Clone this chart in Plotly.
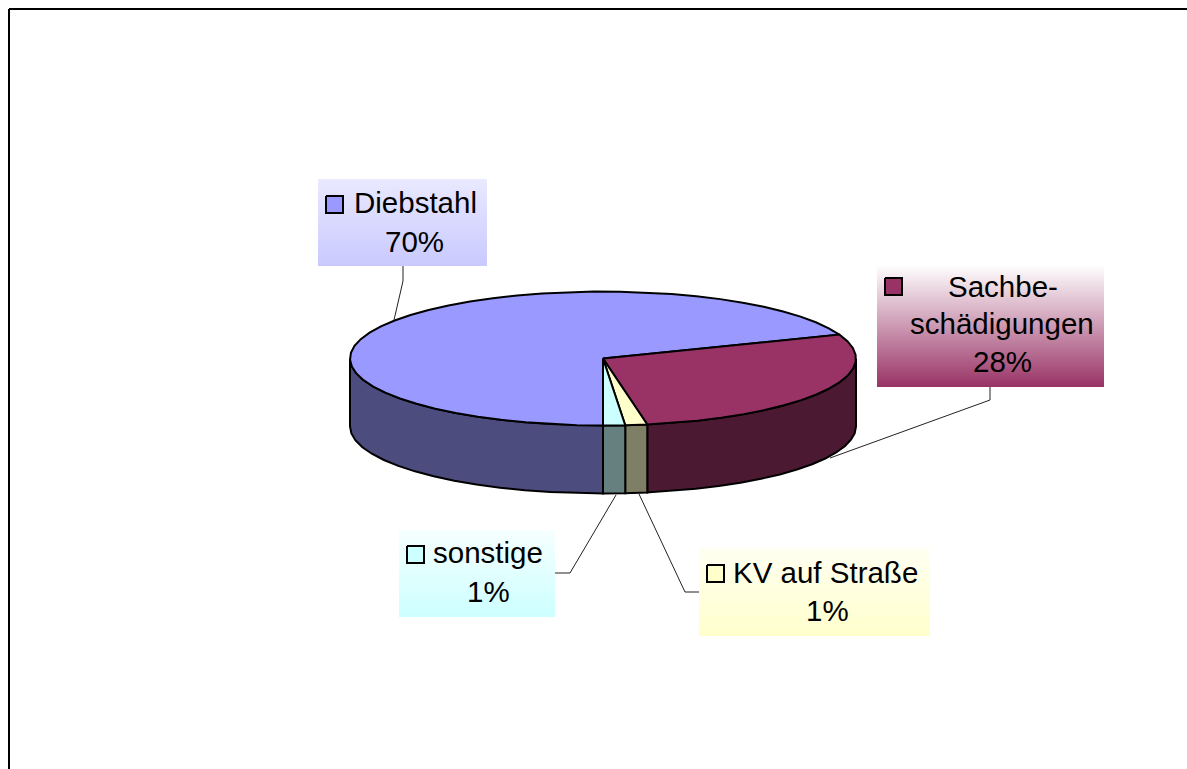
import numpy as np
import plotly.graph_objects as go

# Data
categories = ["Diebstahl", "Sachbe-<br>schädigungen", "KV auf Straße", "sonstige"]
values = [69.2, 28.0, 1.4, 1.4]
percent_labels = ["70%", "28%", "1%", "1%"]
top_colors = ["#9999FF", "#993366", "#FFFFCC", "#CCFFFF"]
side_colors = ["#4C4C7F", "#4C1933", "#7F7F66", "#667F7F"]
grad_top = ["#E9E9FF", "#FFFFFF", "#FFFFF2", "#F7FFFF"]
grad_bottom = ["#C9C9FF", "#993366", "#FFFFCC", "#CCFFFF"]

# Layout in pixels
W, H = 1187, 769
CX, CY, RX, RY, DEPTH = 603, 358.5, 253, 67, 68
START = 180.0
STEP = 6.0
boxes = [(318, 179, 487, 266), (877, 265, 1104, 387), (699, 548, 930, 636), (399, 530, 555, 617)]
keys = [(326, 196), (885, 278), (707, 565), (407, 546)]
text_lines = [
    [("Diebstahl", 415, 202), ("70%", 414, 241)],
    [("Sachbe-", 1003, 286), ("schädigungen", 1002, 323), ("28%", 1002, 361)],
    [("KV auf Straße", 825, 572), ("1%", 827, 610)],
    [("sonstige", 488, 552), ("1%", 488, 591)],
]
leaders = [
    ([403, 403, 394], [266, 281, 320]),
    ([990, 990, 830], [387, 400, 458]),
    ([699, 685, 639], [592, 592, 494]),
    ([555, 570, 616], [573, 573, 495]),
]

def ell(theta_deg, dy=0):
    t = np.radians(theta_deg)
    return CX + RX * np.sin(t), CY - RY * np.cos(t) + dy

def arc(lo, hi):
    n = max(2, int(np.ceil((hi - lo) / STEP)) + 1)
    return np.linspace(lo, hi, n)

fig = go.Figure()

# wedge angles
total = sum(values)
angles = START + np.concatenate([[0], np.cumsum(values)]) * 360 / total

def front_ranges(a0, a1):
    """visible wall part of a wedge (front half of the ellipse)"""
    out = []
    for k in (0, 1):
        lo, hi = max(a0, 90 + 360 * k), min(a1, 270 + 360 * k)
        if hi > lo:
            out.append((lo, hi))
    return out

# side walls
for i in range(len(values)):
    for lo, hi in front_ranges(angles[i], angles[i + 1]):
        th = arc(lo, hi)
        x0, y0 = ell(th)
        x1, y1 = ell(th[::-1], DEPTH)
        fig.add_trace(go.Scatter(
            x=np.r_[x0, x1, x0[0]], y=np.r_[y0, y1, y0[0]], mode="lines", fill="toself",
            fillcolor=side_colors[i], line=dict(color="black", width=2), hoverinfo="skip"))

# top wedges
for i in range(len(values)):
    th = arc(angles[i], angles[i + 1])
    x, y = ell(th)
    fig.add_trace(go.Scatter(
        x=np.r_[CX, x, CX], y=np.r_[CY, y, CY], mode="lines", fill="toself",
        fillcolor=top_colors[i], line=dict(color="black", width=2), hoverinfo="skip"))

# leader lines
for lx, ly in leaders:
    fig.add_trace(go.Scatter(x=lx, y=ly, mode="lines", line=dict(color="#222222", width=1), hoverinfo="skip"))

# label boxes with gradients
for i, (x0, y0, x1, y1) in enumerate(boxes):
    fig.add_trace(go.Scatter(
        x=[x0, x1, x1, x0, x0], y=[y0, y0, y1, y1, y0], mode="lines", line=dict(width=0),
        fill="toself", hoverinfo="skip",
        fillgradient=dict(type="vertical", colorscale=[[0, grad_bottom[i]], [1, grad_top[i]]])))
    kx, ky = keys[i]
    fig.add_trace(go.Scatter(
        x=[kx, kx + 17, kx + 17, kx, kx], y=[ky, ky, ky + 17, ky + 17, ky], mode="lines",
        fill="toself", fillcolor=top_colors[i], line=dict(color="black", width=2), hoverinfo="skip"))

annotations = []
for lines in text_lines:
    for txt, tx, ty in lines:
        annotations.append(dict(x=tx, y=ty, text=txt, showarrow=False, xanchor="center", yanchor="middle",
                                font=dict(family="Liberation Sans", size=29.5, color="black")))

fig.update_layout(
    width=W, height=H, margin=dict(l=0, r=0, t=0, b=0), showlegend=False,
    paper_bgcolor="white", plot_bgcolor="white",
    xaxis=dict(range=[0, W], visible=False, fixedrange=True),
    yaxis=dict(range=[H, 0], visible=False, fixedrange=True),
    annotations=annotations,
    shapes=[
        dict(type="line", x0=9, x1=W, y0=9, y1=9, line=dict(color="black", width=2)),
        dict(type="line", x0=9, x1=9, y0=9, y1=H, line=dict(color="black", width=2)),
    ],
)
fig.write_html("out.html", config=dict(displayModeBar=False),
               post_script="document.body.style.margin='0';document.body.style.overflow='hidden';")
